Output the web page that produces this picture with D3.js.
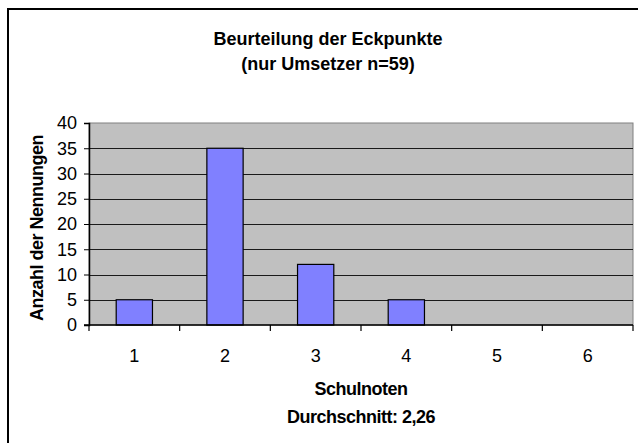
<!DOCTYPE html>
<html>
<head>
<meta charset="utf-8">
<script src="https://cdn.jsdelivr.net/npm/d3@7"></script>
<style>
  body { margin: 0; background: #fff; }
  svg { display: block; font-family: "Liberation Sans", Arial, sans-serif; }
</style>
</head>
<body>
<svg id="chart" width="638" height="443"></svg>
<script>
const noten = ['1', '2', '3', '4', '5', '6'];
const nennungen = [5, 35, 12, 5, 0, 0];
const yTicks = [0, 5, 10, 15, 20, 25, 30, 35, 40];
const titel = ['Beurteilung der Eckpunkte', '(nur Umsetzer n=59)'];
const xTitel = ['Schulnoten', 'Durchschnitt: 2,26'];
const yTitel = 'Anzahl der Nennungen';

const svg = d3.select('#chart');
const margin = { top: 123, left: 89, right: 5, bottom: 118 };
const width = 638 - margin.left - margin.right;
const height = 443 - margin.top - margin.bottom;

// outer chart frame (cut off on right/bottom)
svg.append('rect')
  .attr('x', 8).attr('y', 9)
  .attr('width', 700).attr('height', 500)
  .attr('fill', 'none').attr('stroke', '#000').attr('stroke-width', 2);

const x = d3.scaleBand().domain(noten).range([0, width]).padding(0);
const y = d3.scaleLinear().domain([0, 40]).range([height, 0]);

const g = svg.append('g').attr('transform', `translate(${margin.left},${margin.top})`);

g.append('rect')
  .attr('width', width).attr('height', height)
  .attr('fill', '#c0c0c0').attr('stroke', '#808080').attr('stroke-width', 1);

g.append('g')
  .selectAll('line')
  .data(yTicks.filter(d => d > 0 && d < 40))
  .enter().append('line')
  .attr('x1', 0).attr('x2', width)
  .attr('y1', d => Math.round(y(d)) + 0.5).attr('y2', d => Math.round(y(d)) + 0.5)
  .attr('stroke', '#1a1a1a');

const bw = x.bandwidth() * 0.4;
g.append('g')
  .selectAll('rect')
  .data(nennungen)
  .enter().append('rect')
  .attr('x', (d, i) => x(noten[i]) + (x.bandwidth() - bw) / 2)
  .attr('y', d => y(d))
  .attr('width', bw)
  .attr('height', d => height - y(d))
  .attr('fill', '#8080ff')
  .attr('stroke', '#000')
  .attr('stroke-width', 1.2);

// y axis
const yAxis = g.append('g')
  .call(d3.axisLeft(y).tickValues(yTicks).tickSize(5).tickPadding(7));
yAxis.attr('font-family', null).attr('font-size', null);
yAxis.select('.domain').attr('stroke', '#000').attr('stroke-width', 1.5);
yAxis.selectAll('.tick line').attr('stroke', '#000');
yAxis.selectAll('text').attr('font-size', 18).attr('fill', '#000');

// x axis: ticks between categories
const xAxis = g.append('g').attr('transform', `translate(0,${height})`);
xAxis.append('line').attr('x1', -5).attr('x2', width).attr('stroke', '#000').attr('stroke-width', 1.5);
xAxis.selectAll('line.t')
  .data(d3.range(noten.length + 1))
  .enter().append('line')
  .attr('class', 't')
  .attr('x1', i => i * x.step()).attr('x2', i => i * x.step())
  .attr('y1', 0).attr('y2', 6)
  .attr('stroke', '#000').attr('stroke-width', 1.2);
xAxis.selectAll('text')
  .data(noten)
  .enter().append('text')
  .attr('x', d => x(d) + x.bandwidth() / 2)
  .attr('y', 37)
  .attr('text-anchor', 'middle')
  .attr('font-size', 18)
  .text(d => d);

svg.selectAll('text.titel')
  .data(titel)
  .enter().append('text')
  .attr('class', 'titel')
  .attr('x', 328).attr('y', (d, i) => 45 + i * 25)
  .attr('text-anchor', 'middle')
  .attr('font-size', 18).attr('font-weight', 'bold')
  .attr('letter-spacing', 0)
  .text(d => d);

svg.selectAll('text.xtitel')
  .data(xTitel)
  .enter().append('text')
  .attr('class', 'xtitel')
  .attr('x', margin.left + width / 2).attr('y', (d, i) => 395 + i * 28)
  .attr('text-anchor', 'middle')
  .attr('font-size', 18).attr('font-weight', 'bold')
  .attr('letter-spacing', -0.5)
  .text(d => d);

svg.append('text')
  .attr('transform', `translate(43,${margin.top + height / 2 + 4}) rotate(-90)`)
  .attr('text-anchor', 'middle')
  .attr('font-size', 18).attr('font-weight', 'bold')
  .attr('letter-spacing', -0.5)
  .text(yTitel);
</script>
</body>
</html>
